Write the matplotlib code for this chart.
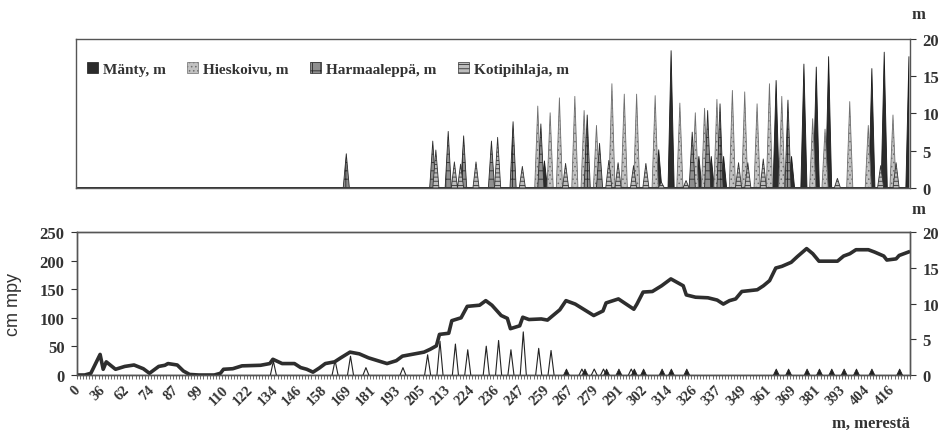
import numpy as np
import matplotlib
matplotlib.use("Agg")
import matplotlib.pyplot as plt
import matplotlib.transforms as mtransforms
from matplotlib.patches import Patch

plt.rcParams['font.family'] = ['Liberation Serif', 'DejaVu Serif']
plt.rcParams['font.weight'] = 'bold'
plt.rcParams['hatch.linewidth'] = 0.6

# Sample points along the transect (categories); every 8th one is labelled
n_cat = 270
label_step = 8
dist_labels = [0, 36, 62, 74, 87, 99, 110, 122, 134, 146, 158, 169, 181, 193,
               205, 213, 224, 236, 247, 259, 267, 279, 291, 302, 314, 326, 337,
               349, 361, 369, 381, 393, 404, 416]

# Tree heights (m) by sample point, given as (sample index, height)
manty_idx = [151, 188, 192, 201, 205, 209, 226, 231, 235, 239, 243, 257, 261, 269]
manty_h = [3.7, 5.2, 18.5, 4.3, 4.3, 4.3, 14.5, 4.3, 16.7, 16.3, 17.7, 16.1, 18.3, 17.7]

hieskoivu_idx = [149, 153, 156, 161, 164, 168, 173, 177, 181, 187, 195, 200, 203,
                 207, 212, 216, 220, 224, 228, 238, 242, 250, 256, 264]
hieskoivu_h = [11.0, 10.1, 12.1, 12.3, 10.4, 8.4, 14.0, 12.6, 12.6, 12.4, 11.4, 10.1,
               10.7, 11.9, 13.1, 12.9, 11.3, 14.0, 12.3, 9.3, 7.9, 11.6, 8.4, 9.8]

harmaaleppa_idx = [87, 115, 120, 125, 134, 141, 150, 165, 169, 199, 204, 208, 230]
harmaaleppa_h = [4.6, 6.3, 7.6, 7.0, 6.3, 8.9, 8.6, 9.8, 6.0, 7.5, 10.4, 11.3, 11.8]

kotipihlaja_idx = [116, 122, 124, 129, 136, 144, 158, 172, 175, 180, 184, 189, 197,
                   214, 217, 222, 246, 260, 265]
kotipihlaja_h = [5.1, 3.5, 3.2, 3.5, 6.8, 2.9, 3.3, 3.7, 3.4, 3.0, 3.3, 0.8, 1.0,
                 3.4, 3.4, 3.9, 1.3, 3.0, 3.4]

# Ground elevation, cm above sea level
elev_idx = [0, 2, 4, 7, 8, 9, 12, 15, 18, 21,
            23, 26, 28, 29, 32, 34, 36, 39, 44, 46,
            47, 50, 53, 59, 62, 63, 66, 70, 72, 74,
            76, 78, 80, 83, 85, 88, 91, 94, 97, 100,
            103, 105, 109, 112, 114, 116, 117, 120, 121, 124,
            126, 130, 132, 134, 137, 139, 140, 143, 144, 146,
            150, 152, 154, 156, 158, 161, 164, 167, 170, 171,
            175, 180, 181, 183, 186, 189, 192, 196, 197, 200,
            204, 207, 209, 211, 213, 215, 220, 222, 224, 226,
            228, 231, 233, 236, 238, 240, 243, 246, 248, 250,
            252, 256, 258, 261, 262, 265, 266, 269]
elev_cm = [0, 0, 3, 36, 10, 23, 10, 15, 17.5, 11,
           3, 15, 17, 20, 17.5, 7, 1, 0, 0, 3,
           10, 11, 16, 17, 20, 27.5, 20, 20, 13, 10,
           5, 12, 20, 23, 30, 40, 37, 30, 25, 20,
           25, 33, 37, 40, 45, 51, 71, 73, 95, 100,
           120, 122, 130, 122, 104, 99, 81, 86, 101, 97,
           98, 96, 105, 114, 130, 124, 114, 104, 112, 126,
           133, 115, 124, 145, 146, 156, 168, 156, 140, 136,
           135, 131, 124, 130, 133, 146, 149, 156, 165, 187,
           190, 197, 207, 221, 212, 199, 199, 199, 208, 212,
           219, 219, 215, 208, 201, 203, 209, 215]

# Small heights (m) on the lower panel: open and filled markers
open_idx = [63, 83, 88, 93, 105, 113, 117, 122, 126, 132, 136, 140, 144, 149, 153,
            163, 167, 170, 179]
open_h = [2.0, 2.1, 2.7, 1.1, 1.1, 2.9, 4.8, 4.4, 3.6, 4.1, 4.9, 3.6, 6.1, 3.8, 3.5,
          0.9, 0.9, 0.9, 0.9]
filled_idx = [158, 164, 171, 175, 180, 183, 189, 192, 197, 226, 230, 236, 240, 244,
              248, 252, 257, 266]
filled_h = [0.9] * len(filled_idx)


def spikes(idx, h):
    arr = np.zeros(n_cat)
    arr[np.asarray(idx)] = h
    return arr


x = np.arange(n_cat)
spine_col = '#555555'

fig = plt.figure(figsize=(9.42, 4.31), dpi=100)
ax1 = fig.add_axes([0.0807, 0.5615, 0.8853, 0.3457])
ax2 = fig.add_axes([0.0817, 0.1276, 0.8843, 0.3318])

# ---- upper panel: tree heights ----
series = [
    ('Mänty, m', spikes(manty_idx, manty_h),
     dict(facecolor='#2b2b2b', edgecolor='#1a1a1a')),
    ('Hieskoivu, m', spikes(hieskoivu_idx, hieskoivu_h),
     dict(facecolor='#c2c2c2', edgecolor='#6e6e6e', hatch='....')),
    ('Harmaaleppä, m', spikes(harmaaleppa_idx, harmaaleppa_h),
     dict(facecolor='#8f8f8f', edgecolor='#2a2a2a', hatch='++')),
    ('Kotipihlaja, m', spikes(kotipihlaja_idx, kotipihlaja_h),
     dict(facecolor='#bdbdbd', edgecolor='#333333', hatch='----')),
]
handles = []
for name, vals, st in series:
    ax1.fill_between(x, 0, vals, linewidth=0.6, **st)
    handles.append(Patch(label=name, linewidth=0.5, **st))

ax1.set_xlim(-0.5, n_cat - 0.5)
ax1.set_ylim(0, 20)
ax1.set_xticks([])
ax1.yaxis.tick_right()
ax1.set_yticks([0, 5, 10, 15, 20])
ax1.tick_params(axis='y', length=4, direction='out', labelsize=12, pad=5,
                colors='#333333')
for s in ax1.spines.values():
    s.set_color(spine_col)
    s.set_linewidth(1.0)
ax1.legend(handles=handles, ncol=4, loc='center left', bbox_to_anchor=(0.0, 0.80),
           frameon=False, fontsize=11, handlelength=0.75, handleheight=0.75,
           handletextpad=0.3, columnspacing=1.4, borderaxespad=0.3,
           labelcolor='#333333')

# ---- lower panel: elevation line and small heights ----
ax2r = ax2.twinx()
ax2r.fill_between(x, 0, spikes(open_idx, open_h), facecolor='white',
                  edgecolor='#222222', linewidth=0.8)
ax2r.fill_between(x, 0, spikes(filled_idx, filled_h), facecolor='#222222',
                  edgecolor='#222222', linewidth=0.6)
ax2r.set_ylim(0, 20)
ax2r.set_yticks([0, 5, 10, 15, 20])
ax2r.tick_params(axis='y', length=4, direction='out', labelsize=12, pad=5,
                 colors='#333333')

ax2.plot(elev_idx, elev_cm, color='#2e2e2e', linewidth=2.6,
         solid_joinstyle='round')
ax2.set_zorder(ax2r.get_zorder() + 1)
ax2.patch.set_visible(False)
ax2.set_ylim(0, 250)
ax2.set_yticks([0, 50, 100, 150, 200, 250])
ax2.tick_params(axis='y', length=4, direction='out', labelsize=12, pad=5,
                colors='#333333')
ax2.set_xlim(-0.5, n_cat - 0.5)
ax2.set_xticks(np.arange(len(dist_labels)) * label_step)
ax2.set_xticklabels([str(v) for v in dist_labels], rotation=45, ha='right',
                    rotation_mode='anchor', fontsize=10.5)
ax2.tick_params(axis='x', which='major', length=0, pad=7, colors='#333333')
shift = mtransforms.ScaledTranslation(-0.05, 0.02, fig.dpi_scale_trans)
for lab in ax2.get_xticklabels():
    lab.set_transform(lab.get_transform() + shift)
ax2.set_xticks(np.arange(-0.5, n_cat, 1), minor=True)
ax2.tick_params(axis='x', which='minor', length=3, direction='out',
                width=0.6, color='#555555')
ax2.set_ylabel('cm mpy', family=['Liberation Sans'], fontweight='normal',
               fontsize=13, color='#333333')
ax2.yaxis.set_label_coords(-0.066, 0.5)
for a in (ax2, ax2r):
    for s in a.spines.values():
        s.set_color(spine_col)
        s.set_linewidth(1.0)

fig.text(0.975, 0.965, 'm', ha='center', va='center', fontsize=12, color='#333333')
fig.text(0.975, 0.513, 'm', ha='center', va='center', fontsize=12, color='#333333')
fig.text(0.925, 0.016, 'm, merestä', ha='center', va='center', fontsize=12,
         color='#333333')

fig.savefig('out.png', dpi=100)
